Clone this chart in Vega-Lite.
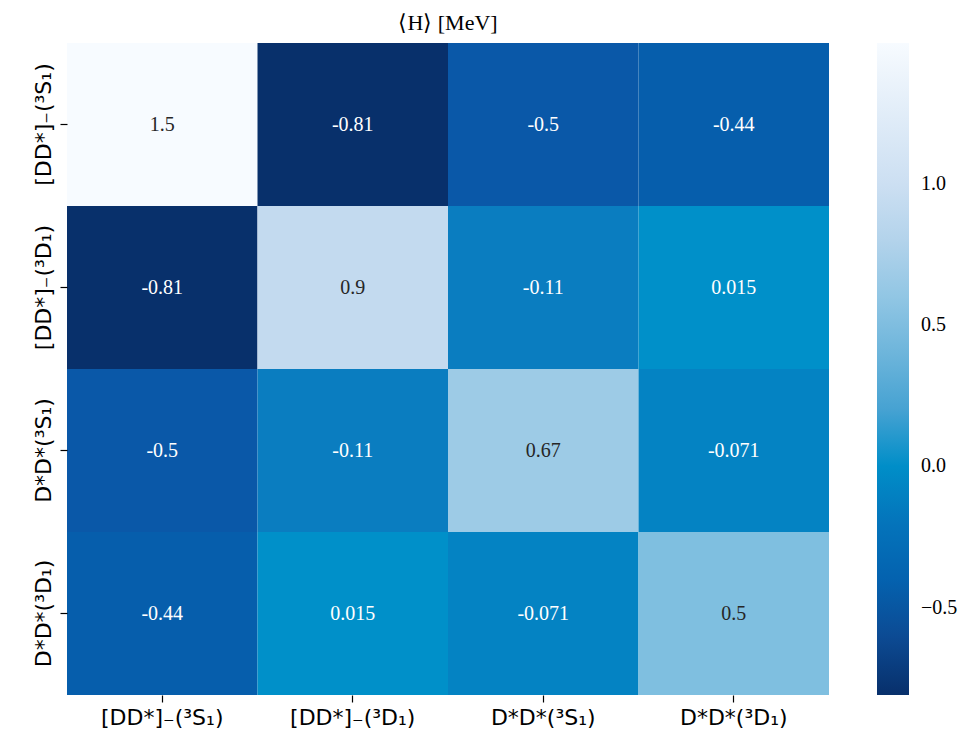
{
  "$schema": "https://vega.github.io/schema/vega-lite/v6.json",
  "width": 762,
  "height": 652,
  "padding": {"left": 0, "top": 12, "right": 0, "bottom": 0},
  "background": "white",
  "title": {"text": "⟨H⟩ [MeV]", "font": "Liberation Serif", "fontSize": 22, "fontWeight": "normal", "color": "black", "offset": 8, "anchor": "middle"},
  "data": {"values": [
    {"row": "[DD*]₋(³S₁)", "col": "[DD*]₋(³S₁)", "v": 1.5, "label": "1.5"},
    {"row": "[DD*]₋(³S₁)", "col": "[DD*]₋(³D₁)", "v": -0.81, "label": "-0.81"},
    {"row": "[DD*]₋(³S₁)", "col": "D*D*(³S₁)", "v": -0.5, "label": "-0.5"},
    {"row": "[DD*]₋(³S₁)", "col": "D*D*(³D₁)", "v": -0.44, "label": "-0.44"},
    {"row": "[DD*]₋(³D₁)", "col": "[DD*]₋(³S₁)", "v": -0.81, "label": "-0.81"},
    {"row": "[DD*]₋(³D₁)", "col": "[DD*]₋(³D₁)", "v": 0.9, "label": "0.9"},
    {"row": "[DD*]₋(³D₁)", "col": "D*D*(³S₁)", "v": -0.11, "label": "-0.11"},
    {"row": "[DD*]₋(³D₁)", "col": "D*D*(³D₁)", "v": 0.015, "label": "0.015"},
    {"row": "D*D*(³S₁)", "col": "[DD*]₋(³S₁)", "v": -0.5, "label": "-0.5"},
    {"row": "D*D*(³S₁)", "col": "[DD*]₋(³D₁)", "v": -0.11, "label": "-0.11"},
    {"row": "D*D*(³S₁)", "col": "D*D*(³S₁)", "v": 0.67, "label": "0.67"},
    {"row": "D*D*(³S₁)", "col": "D*D*(³D₁)", "v": -0.071, "label": "-0.071"},
    {"row": "D*D*(³D₁)", "col": "[DD*]₋(³S₁)", "v": -0.44, "label": "-0.44"},
    {"row": "D*D*(³D₁)", "col": "[DD*]₋(³D₁)", "v": 0.015, "label": "0.015"},
    {"row": "D*D*(³D₁)", "col": "D*D*(³S₁)", "v": -0.071, "label": "-0.071"},
    {"row": "D*D*(³D₁)", "col": "D*D*(³D₁)", "v": 0.5, "label": "0.5"}
  ]},
  "encoding": {
    "x": {"field": "col", "type": "nominal", "sort": ["[DD*]₋(³S₁)", "[DD*]₋(³D₁)", "D*D*(³S₁)", "D*D*(³D₁)"],
      "scale": {"paddingInner": 0, "paddingOuter": 0},
      "axis": {"title": null, "labelAngle": 0, "labelFont": "DejaVu Sans", "labelFontSize": 22, "labelColor": "black", "labelPadding": 5, "tickSize": 7, "tickColor": "black", "tickWidth": 1.2, "domain": false, "grid": false}},
    "y": {"field": "row", "type": "nominal", "sort": ["[DD*]₋(³S₁)", "[DD*]₋(³D₁)", "D*D*(³S₁)", "D*D*(³D₁)"],
      "scale": {"paddingInner": 0, "paddingOuter": 0},
      "axis": {"title": null, "labelAngle": -90, "labelAlign": "center", "labelBaseline": "bottom", "labelFont": "DejaVu Sans", "labelFontSize": 22, "labelColor": "black", "labelPadding": 5, "tickSize": 7, "tickColor": "black", "tickWidth": 1.2, "domain": false, "grid": false, "minExtent": 67, "maxExtent": 67}}
  },
  "layer": [
    {"mark": {"type": "rect"},
     "encoding": {
       "color": {"field": "v", "type": "quantitative",
         "scale": {"domain": [-0.81, -0.5, -0.11, 0.015, 0.5, 0.67, 0.9, 1.5],
                   "range": ["#08306b", "#0a58a8", "#0a7dc0", "#0090c9", "#7fbfe0", "#9dcbe6", "#c3daef", "#f7fbff"]},
         "legend": {"title": null, "values": [-0.5, 0, 0.5, 1.0], "format": ".1f",
           "labelExpr": "replace(datum.label, '-', '−')",
           "gradientLength": 652, "gradientThickness": 32, "offset": 48,
           "labelFont": "Liberation Serif", "labelFontSize": 20, "labelColor": "black", "labelOffset": 12,
           "gradientStrokeWidth": 0}
       }
     }},
    {"mark": {"type": "text", "font": "Liberation Serif", "fontSize": 20},
     "encoding": {
       "text": {"field": "label", "type": "nominal"},
       "color": {"condition": {"test": "datum.v > 0.3", "value": "#262626"}, "value": "white"}
     }}
  ],
  "config": {"view": {"stroke": null}}
}
